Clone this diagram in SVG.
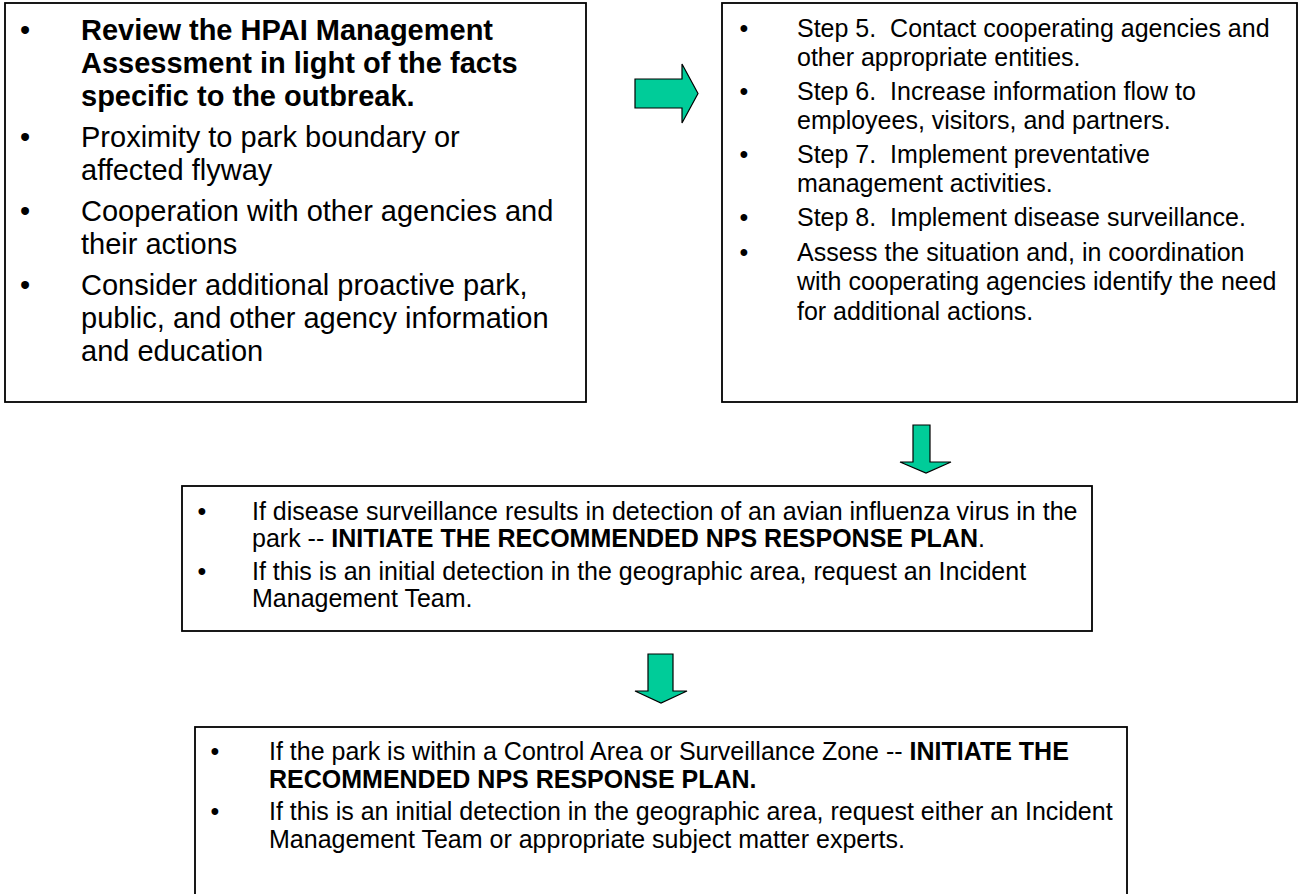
<svg xmlns="http://www.w3.org/2000/svg" width="1301" height="894" viewBox="0 0 1301 894">
<style>
.box{fill:#fff;stroke:#000;stroke-width:1.8}
.arrow{fill:#00CC99;stroke:#000;stroke-width:1.2;stroke-linejoin:miter}
text{font-family:"Liberation Sans",Arial,sans-serif;fill:#000}
.t1{font-size:29px}
.t2{font-size:25px}
.b{font-weight:bold}
.bul{text-anchor:middle}
</style>
<rect width="1301" height="894" fill="#fff"/>
<g id="connectors">
<polygon class="arrow" points="635,79 682,79 682,64 698,93.5 682,123 682,108 635,108"/>
<polygon class="arrow" points="913,425 930,425 930,462 951,462 926,473 900,462 913,462"/>
<polygon class="arrow" points="648,654 673,654 673,691 687,691 661,703 635,691 648,691"/>
</g>
<g id="box1">
<rect class="box" x="5" y="3" width="581" height="399"/>
<g class="t1">
<text class="bul" x="25" y="40">•</text>
<text class="b" x="81" y="40">Review the HPAI Management</text>
<text class="b" x="81" y="73">Assessment in light of the facts</text>
<text class="b" x="81" y="106">specific to the outbreak.</text>
<text class="bul" x="25" y="147">•</text>
<text x="81" y="147">Proximity to park boundary or</text>
<text x="81" y="180">affected flyway</text>
<text class="bul" x="25" y="221">•</text>
<text x="81" y="221">Cooperation with other agencies and</text>
<text x="81" y="254">their actions</text>
<text class="bul" x="25" y="295">•</text>
<text x="81" y="295">Consider additional proactive park,</text>
<text x="81" y="328">public, and other agency information</text>
<text x="81" y="361">and education</text>
</g>
</g>
<g id="box2">
<rect class="box" x="722" y="3" width="575" height="399"/>
<g class="t2">
<text class="bul" x="744" y="37">•</text>
<text x="797" y="37">Step 5.&#160; Contact cooperating agencies and</text>
<text x="797" y="66">other appropriate entities.</text>
<text class="bul" x="744" y="100">•</text>
<text x="797" y="100">Step 6.&#160; Increase information flow to</text>
<text x="797" y="129">employees, visitors, and partners.</text>
<text class="bul" x="744" y="163">•</text>
<text x="797" y="163">Step 7.&#160; Implement preventative</text>
<text x="797" y="192">management activities.</text>
<text class="bul" x="744" y="226">•</text>
<text x="797" y="226">Step 8.&#160; Implement disease surveillance.</text>
<text class="bul" x="744" y="261">•</text>
<text x="797" y="261">Assess the situation and, in coordination</text>
<text x="797" y="290">with cooperating agencies identify the need</text>
<text x="797" y="320">for additional actions.</text>
</g>
</g>
<g id="box3">
<rect class="box" x="182" y="486" width="910" height="145"/>
<g class="t2">
<text class="bul" x="202" y="520">•</text>
<text x="252" y="520">If disease surveillance results in detection of an avian influenza virus in the</text>
<text x="252" y="547">park -- <tspan class="b">INITIATE THE RECOMMENDED NPS RESPONSE PLAN</tspan>.</text>
<text class="bul" x="202" y="580">•</text>
<text x="252" y="580">If this is an initial detection in the geographic area, request an Incident</text>
<text x="252" y="607">Management Team.</text>
</g>
</g>
<g id="box4">
<rect class="box" x="195" y="727" width="932" height="180"/>
<g class="t2">
<text class="bul" x="215" y="760">•</text>
<text x="269" y="760">If the park is within a Control Area or Surveillance Zone -- <tspan class="b">INITIATE THE</tspan></text>
<text class="b" x="269" y="788">RECOMMENDED NPS RESPONSE PLAN.</text>
<text class="bul" x="215" y="820">•</text>
<text x="269" y="820">If this is an initial detection in the geographic area, request either an Incident</text>
<text x="269" y="848">Management Team or appropriate subject matter experts.</text>
</g>
</g>
</svg>
